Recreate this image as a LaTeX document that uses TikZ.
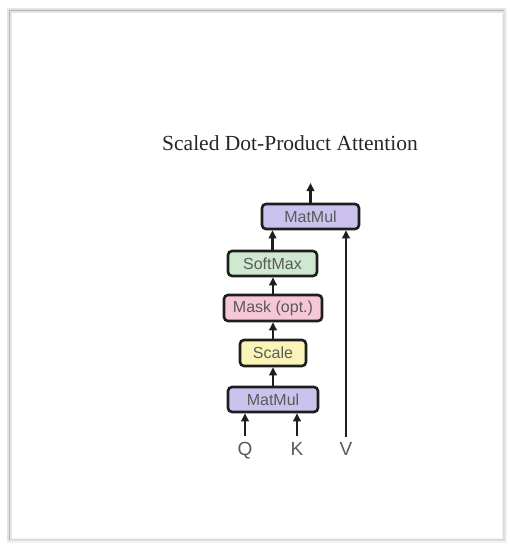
\documentclass[tikz,border=0pt]{standalone}
\usepackage{fontspec}
\setmainfont{Liberation Serif}
\newfontfamily\boxfont{Liberation Sans}
\usetikzlibrary{arrows.meta}

\definecolor{matmulfill}{HTML}{CBC3EE}
\definecolor{softmaxfill}{HTML}{CFE8D0}
\definecolor{maskfill}{HTML}{F6C7D9}
\definecolor{scalefill}{HTML}{FAF4B8}
\definecolor{boxtext}{HTML}{5A5A5A}
\definecolor{edge}{HTML}{1E1E1E}

\tikzset{
  opbox/.style={draw=edge, line width=2.6pt, rounded corners=4pt,
    minimum height=25pt, inner sep=0pt, text=boxtext,
    font=\boxfont\fontsize{16}{19}\selectfont},
  flow/.style={draw=edge, line width=2.1pt,
    -{Triangle[length=8pt,width=7.5pt]}},
  inlabel/.style={text=boxtext, inner sep=0pt, anchor=base,
    font=\boxfont\fontsize{19}{22}\selectfont}
}

\begin{document}
\begin{tikzpicture}[x=1pt,y=-1pt]
  \useasboundingbox (0,0) rectangle (509,546);
  \fill[white] (0,0) rectangle (509,546);

  % page frame: faint all round, with a shadow on the top and left
  \draw[black!5, line width=5pt] (9,10) rectangle (504,540);
  \draw[black!14, line width=1.5pt] (9,10) rectangle (504,540);
  \draw[black!10, line width=5pt] (9,540) -- (9,10) -- (504,10);
  \draw[black!30, line width=1.2pt] (9.5,540) -- (9.5,10.5) -- (504,10.5);

  % title
  \node[text=black!85, font=\fontsize{21.5}{25}\selectfont] (title) at (290,143)
    {Scaled Dot-Product Attention};

  % operation blocks
  \node[opbox, fill=matmulfill, minimum width=90pt] (mm1) at (273,399.5) {MatMul};
  \node[opbox, fill=scalefill, minimum width=66pt, minimum height=26pt] (scale) at (273,353) {Scale};
  \node[opbox, fill=maskfill, minimum width=98pt, minimum height=26pt] (mask) at (273,308) {Mask (opt.)};
  \node[opbox, fill=softmaxfill, minimum width=89pt] (softmax) at (272.5,263.5) {SoftMax};
  \node[opbox, fill=matmulfill, minimum width=97pt] (mm2) at (310.5,216.5) {MatMul};

  % inputs
  \node[inlabel] (q) at (245,455) {Q};
  \node[inlabel] (k) at (297,455) {K};
  \node[inlabel] (v) at (346,455) {V};
  \coordinate (qtop) at (245,436);
  \coordinate (ktop) at (297,436);
  \coordinate (vtop) at (346,437);
  \coordinate (out) at (310.5,183);

  % connections
  \draw[flow] (qtop) -- (qtop |- mm1.south);
  \draw[flow] (ktop) -- (ktop |- mm1.south);
  \draw[flow] (mm1.north) -- (scale.south);
  \draw[flow] (scale.north) -- (mask.south);
  \draw[flow] (mask.north) -- (mask.north |- softmax.south);
  \draw[flow] (softmax.north) -- (softmax.north |- mm2.south);
  \draw[flow] (vtop) -- (vtop |- mm2.south);
  \draw[flow] (mm2.north) -- (out);
\end{tikzpicture}
\end{document}
